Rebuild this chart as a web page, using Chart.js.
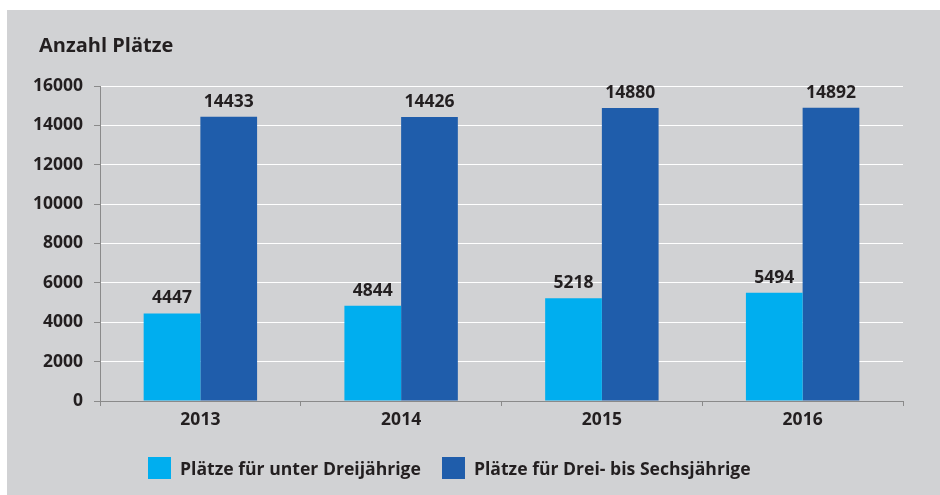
<!DOCTYPE html>
<html>
<head>
<meta charset="utf-8">
<script src="https://cdn.jsdelivr.net/npm/chart.js@4.4.1/dist/chart.umd.min.js"></script>
<style>
    html, body { margin: 0; padding: 0; background: #ffffff; }
    #frame { position: absolute; left: 7px; top: 10px; width: 933px; height: 485px; background: #d1d2d4; }
    #chartBox { position: absolute; left: 0; top: 0; width: 940px; height: 495px; }
    #legend { position: absolute; left: 148px; top: 456px; display: flex; align-items: center; gap: 21px;
              font-family: "Open Sans", sans-serif; font-weight: 700; font-size: 17.6px; color: #231f20; }
    .legendItem { display: flex; align-items: center; gap: 9px; }
    .legendSwatch { width: 23px; height: 22px; }
</style>
</head>
<body>
<div id="frame"></div>
<div id="chartBox"><canvas id="platzChart"></canvas></div>
<div id="legend"></div>

<script>
const years = ['2013', '2014', '2015', '2016'];
const unterDrei = [4447, 4844, 5218, 5494];
const dreiBisSechs = [14433, 14426, 14880, 14892];
const seriesNames = ['Plätze für unter Dreijährige', 'Plätze für Drei- bis Sechsjährige'];
const seriesColors = ['#00aeef', '#1f5dab'];

const textColor = '#231f20';
const axisColor = '#8a8a8a';
const fontFamily = '"Open Sans", sans-serif';

// value labels above each bar
const barValues = {
    id: 'barValues',
    afterDatasetsDraw(chart) {
        const ctx = chart.ctx;
        ctx.save();
        ctx.fillStyle = textColor;
        ctx.font = 'bold 17.5px ' + fontFamily;
        ctx.textAlign = 'center';
        ctx.textBaseline = 'middle';
        chart.data.datasets.forEach((ds, i) => {
            chart.getDatasetMeta(i).data.forEach((bar, j) => {
                ctx.fillText(String(ds.data[j]), bar.x, bar.y - 15);
            });
        });
        ctx.restore();
    }
};

// title sits a bit right of the y labels
const titleNudge = {
    id: 'titleNudge',
    afterLayout(chart) {
        if (chart.titleBlock) chart.titleBlock.left += 5;
    }
};

const ctx = document.getElementById('platzChart').getContext('2d');
const platzChart = new Chart(ctx, {
    type: 'bar',
    data: {
        labels: years,
        datasets: [
            { label: seriesNames[0], data: unterDrei, backgroundColor: seriesColors[0], borderWidth: 0 },
            { label: seriesNames[1], data: dreiBisSechs, backgroundColor: seriesColors[1], borderWidth: 0 }
        ]
    },
    options: {
        responsive: true,
        maintainAspectRatio: false,
        animation: false,
        events: [],
        layout: { padding: { left: 34, right: 37, top: 0, bottom: 63 } },
        datasets: { bar: { categoryPercentage: 0.565, barPercentage: 1.0 } },
        plugins: {
            legend: { display: false },
            tooltip: { enabled: false },
            title: {
                display: true,
                text: 'Anzahl Plätze',
                align: 'start',
                color: textColor,
                font: { family: fontFamily, size: 20, weight: 'bold', lineHeight: 1.2 },
                padding: { top: 34, bottom: 28 }
            }
        },
        scales: {
            x: {
                grid: { display: true, drawOnChartArea: false, offset: true, tickLength: 5, tickColor: axisColor },
                border: { display: true, color: axisColor, width: 1 },
                ticks: { color: textColor, padding: 4, font: { family: fontFamily, size: 17.5, weight: 'bold' } },
                afterFit: (scale) => { scale.height = 31; }
            },
            y: {
                min: 0,
                max: 16000,
                ticks: {
                    stepSize: 2000,
                    color: textColor,
                    padding: 11,
                    font: { family: fontFamily, size: 17.5, weight: 'bold' },
                    callback: (value) => String(value)
                },
                grid: { color: '#ffffff', lineWidth: 1, tickLength: 6, tickColor: axisColor },
                border: { display: true, color: axisColor, width: 1 },
                afterFit: (scale) => { scale.width = 66; }
            }
        }
    },
    plugins: [barValues, titleNudge]
});

// legend in html, built from the datasets
const legendEl = document.getElementById('legend');
platzChart.data.datasets.forEach(ds => {
    const item = document.createElement('div');
    item.className = 'legendItem';
    const swatch = document.createElement('div');
    swatch.className = 'legendSwatch';
    swatch.style.background = ds.backgroundColor;
    const label = document.createElement('span');
    label.textContent = ds.label;
    item.appendChild(swatch);
    item.appendChild(label);
    legendEl.appendChild(item);
});
</script>
</body>
</html>
